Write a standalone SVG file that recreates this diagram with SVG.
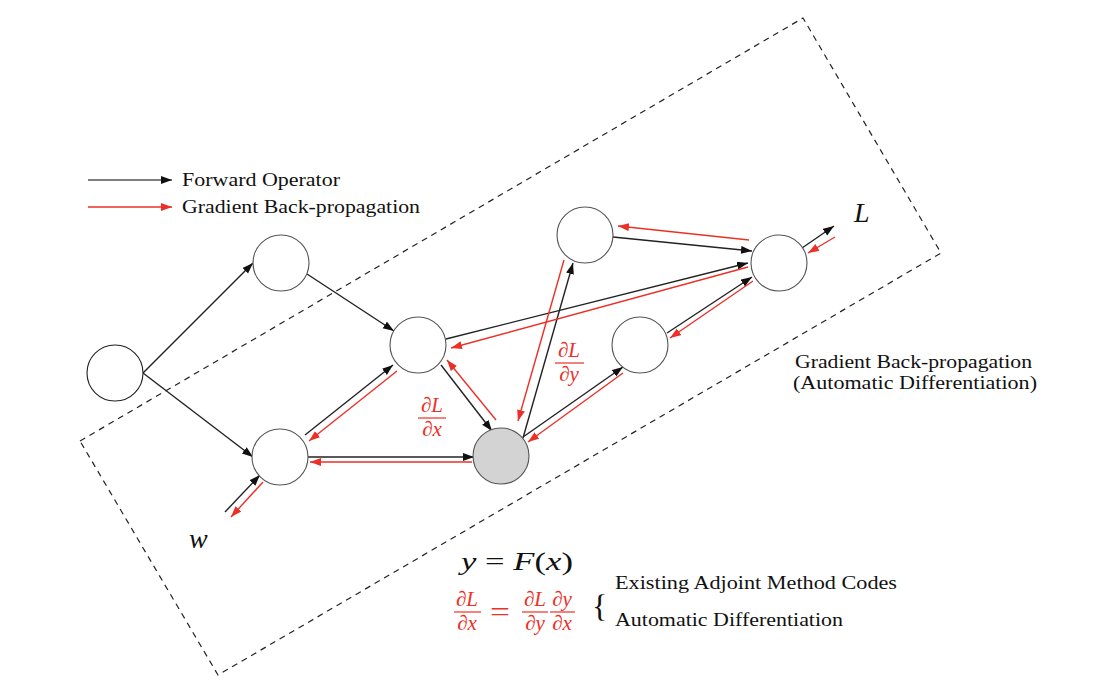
<svg xmlns="http://www.w3.org/2000/svg" width="1104" height="696" viewBox="0 0 1104 696">
<style>
.nd{fill:#fff;stroke:#555;stroke-width:1.1}
.blk{stroke:#222;stroke-width:1.4;fill:none;marker-end:url(#ab)}
.red{stroke:#ec3027;stroke-width:1.4;fill:none;marker-end:url(#ar)}
.t{font-family:"Liberation Serif","DejaVu Serif",serif;font-size:19px;fill:#111}
.m{font-family:"Liberation Serif","DejaVu Serif",serif;font-style:italic;fill:#111}
.mr{font-family:"Liberation Serif","DejaVu Serif",serif;font-style:italic;fill:#ec3027;font-size:21px;text-anchor:middle}
.bar{stroke:#ec3027;stroke-width:1.2}
</style>
<defs>
<marker id="ab" markerUnits="userSpaceOnUse" markerWidth="12" markerHeight="9" refX="11" refY="4" orient="auto"><path d="M0,0 L11,4 L0,8 z" fill="#111"/></marker>
<marker id="ar" markerUnits="userSpaceOnUse" markerWidth="12" markerHeight="9" refX="11" refY="4" orient="auto"><path d="M0,0 L11,4 L0,8 z" fill="#ec3027"/></marker>
</defs>
<rect width="1104" height="696" fill="#fff"/>
<polygon id="box" points="80,441 803,18 941,253 218,675" fill="none" stroke="#222" stroke-width="1.2" stroke-dasharray="6,5"/>
<g id="legend">
<line x1="88" y1="180" x2="172" y2="180" class="blk" style="stroke:#555"/>
<text x="182" y="186" class="t" textLength="158" lengthAdjust="spacingAndGlyphs">Forward Operator</text>
<line x1="88" y1="207" x2="172" y2="207" class="red"/>
<text x="182" y="213" class="t" textLength="238" lengthAdjust="spacingAndGlyphs">Gradient Back-propagation</text>
</g>
<g id="connectors">
<line x1="143" y1="373" x2="253" y2="263" class="blk"/>
<line x1="143" y1="373" x2="253" y2="457" class="blk"/>
<line x1="307" y1="274" x2="394" y2="331" class="blk"/>
<line x1="305" y1="435" x2="393" y2="365" class="blk"/>
<line x1="441" y1="365" x2="492" y2="431" class="blk"/>
<line x1="308" y1="457" x2="474" y2="457" class="blk"/>
<line x1="523" y1="438" x2="573" y2="263" class="blk"/>
<line x1="523" y1="437" x2="623" y2="367" class="blk"/>
<line x1="667" y1="333" x2="752" y2="277" class="blk"/>
<line x1="446" y1="339" x2="748" y2="263" class="blk"/>
<line x1="613" y1="237" x2="752" y2="251" class="blk"/>
<line x1="802" y1="248" x2="834" y2="226" class="blk"/>
<line x1="225" y1="512" x2="260" y2="475" class="blk"/>
<line x1="397" y1="371" x2="309" y2="441" class="red"/>
<line x1="496" y1="420" x2="447" y2="360" class="red"/>
<line x1="472" y1="462" x2="310" y2="462" class="red"/>
<line x1="564" y1="260" x2="518" y2="421" class="red"/>
<line x1="623" y1="373" x2="528" y2="442" class="red"/>
<line x1="753" y1="281" x2="670" y2="338" class="red"/>
<line x1="748" y1="267" x2="451" y2="348" class="red"/>
<line x1="749" y1="240" x2="618" y2="226" class="red"/>
<line x1="835" y1="237" x2="808" y2="253" class="red"/>
<line x1="263" y1="482" x2="231" y2="517" class="red"/>
</g>
<g id="nA"><circle cx="115" cy="373" r="28" class="nd" style="stroke:#222"/></g>
<g id="nB"><circle cx="281" cy="263" r="28" class="nd"/></g>
<g id="nC"><circle cx="280" cy="457" r="28" class="nd"/></g>
<g id="nD"><circle cx="418" cy="345" r="28" class="nd"/></g>
<g id="nE"><circle cx="501" cy="456" r="28" class="nd" style="fill:#d3d3d3"/></g>
<g id="nF"><circle cx="585" cy="235" r="28" class="nd"/></g>
<g id="nG"><circle cx="640" cy="345" r="28" class="nd"/></g>
<g id="nH"><circle cx="779" cy="263" r="28" class="nd"/></g>
<g id="labels">
<text x="854" y="222" class="m" font-size="28">L</text>
<text x="189" y="548" class="m" font-size="28">w</text>
<text x="569" y="357" class="mr">∂L</text>
<line x1="555" y1="363" x2="584" y2="363" class="bar"/>
<text x="569" y="381" class="mr">∂y</text>
<text x="432" y="412" class="mr">∂L</text>
<line x1="418" y1="418" x2="446" y2="418" class="bar"/>
<text x="432" y="436" class="mr">∂x</text>
<text x="795" y="368" class="t" textLength="237" lengthAdjust="spacingAndGlyphs">Gradient Back-propagation</text>
<text x="793" y="389" class="t" textLength="244" lengthAdjust="spacingAndGlyphs">(Automatic Differentiation)</text>
<text x="461" y="570" class="m" font-size="26" textLength="112" lengthAdjust="spacingAndGlyphs">y <tspan font-style="normal">=</tspan> F<tspan font-style="normal">(</tspan>x<tspan font-style="normal">)</tspan></text>
<text x="467" y="606" class="mr">∂L</text>
<line x1="454" y1="612" x2="481" y2="612" class="bar"/>
<text x="467" y="630" class="mr">∂x</text>
<text x="490" y="621" class="mr" style="font-style:normal;font-size:28px;text-anchor:start" textLength="20" lengthAdjust="spacingAndGlyphs">=</text>
<text x="535" y="606" class="mr">∂L</text>
<line x1="522" y1="612" x2="548" y2="612" class="bar"/>
<text x="535" y="630" class="mr">∂y</text>
<text x="562" y="606" class="mr">∂y</text>
<line x1="550" y1="612" x2="575" y2="612" class="bar"/>
<text x="562" y="630" class="mr">∂x</text>
<text x="592" y="617" class="t" style="font-size:32px">{</text>
<text x="615" y="589" class="t" textLength="282" lengthAdjust="spacingAndGlyphs">Existing Adjoint Method Codes</text>
<text x="615" y="626" class="t" textLength="228" lengthAdjust="spacingAndGlyphs">Automatic Differentiation</text>
</g>
</svg>
